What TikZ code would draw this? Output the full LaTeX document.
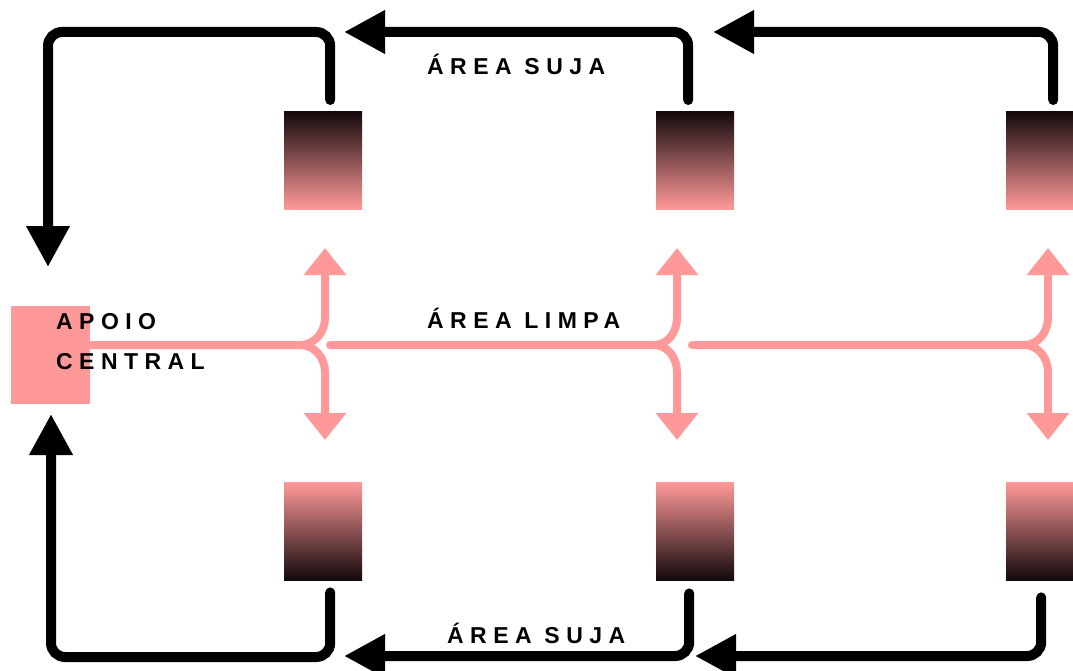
\documentclass[tikz,border=0pt]{standalone}
\usepackage{fontspec}
\usepackage{tikz}
\usetikzlibrary{arrows.meta}
\setmainfont{Liberation Sans}
\newfontfamily\areafont[LetterSpace=28]{Liberation Sans Bold}
\definecolor{cleanPink}{RGB}{255,153,153}
\definecolor{dirtDark}{RGB}{18,8,10}

\begin{document}
\begin{tikzpicture}[
    x=1pt, y=-1pt,
    dirty/.style={-{Triangle[length=41pt,width=41pt]}, line width=10pt, line cap=round, rounded corners=14pt},
    clean/.style={draw=cleanPink, line width=8pt, line cap=round},
    cleanArrow/.style={clean, -{Triangle[length=27pt,width=41pt]}},
    topBox/.style={rectangle, inner sep=0pt, minimum width=78pt, minimum height=98pt, anchor=north west, top color=dirtDark, bottom color=cleanPink},
    botBox/.style={topBox, top color=cleanPink, bottom color=dirtDark},
    areaText/.style={inner sep=0pt, anchor=base west, font=\areafont\fontsize{23}{27}\selectfont}
]
\useasboundingbox (0,0) rectangle (1073,671);
\clip (0,0) rectangle (1073,671);

% Dirty side boxes
\node[topBox] (topBoxA) at (284,111) {};
\node[topBox] (topBoxB) at (656,111) {};
\node[topBox] (topBoxC) at (1006,111) {};
\node[botBox] (botBoxA) at (284,482) {};
\node[botBox] (botBoxB) at (656,482) {};
\node[botBox] (botBoxC) at (1006,482) {};

% Central support
\node[rectangle, fill=cleanPink, inner sep=0pt, minimum width=79pt, minimum height=98pt, anchor=north west] (apoio) at (11,306) {};

% Clean area
\draw[clean] ([yshift=10pt]apoio.east) -- (300,345) coordinate (jA);
\draw[cleanArrow] (jA) to[out=0,in=-90] (325,318) -- (325,248);
\draw[cleanArrow] (jA) to[out=0,in=90] (325,372) -- (325,440);
\draw[clean] (330,345) -- (654,345) coordinate (jB);
\draw[cleanArrow] (jB) to[out=0,in=-90] (677,318) -- (677,248);
\draw[cleanArrow] (jB) to[out=0,in=90] (677,372) -- (677,440);
\draw[clean] (692,345) -- (1024,345) coordinate (jC);
\draw[cleanArrow] (jC) to[out=0,in=-90] (1048,318) -- (1048,248);
\draw[cleanArrow] (jC) to[out=0,in=90] (1048,372) -- (1048,440);

% Dirty return paths
\draw[dirty] ([xshift=7pt,yshift=11pt]topBoxA.north) |- (48,32) -- (48,267);
\draw[dirty] ([xshift=-7pt,yshift=11pt]topBoxB.north) |- (344,32);
\draw[dirty] ([xshift=8pt,yshift=11pt]topBoxC.north) |- (713,32);
\draw[dirty] ([xshift=7pt,yshift=-12pt]botBoxA.south) |- (51,657) -- (51,414);
\draw[dirty] ([xshift=-6pt,yshift=-13pt]botBoxB.south) |- (344,656);
\draw[dirty] ([xshift=-4pt,yshift=-17pt]botBoxC.south) |- (695,656);

% Labels
\node[areaText] (lblApoio) at (56,329) {APOIO};
\node[areaText] (lblCentral) at (56,369) {CENTRAL};
\node[areaText] (lblSujaTop) at (427,75) {ÁREA SUJA};
\node[areaText] (lblLimpa) at (427,328) {ÁREA LIMPA};
\node[areaText] (lblSujaBot) at (447,643) {ÁREA SUJA};

\end{tikzpicture}
\end{document}
